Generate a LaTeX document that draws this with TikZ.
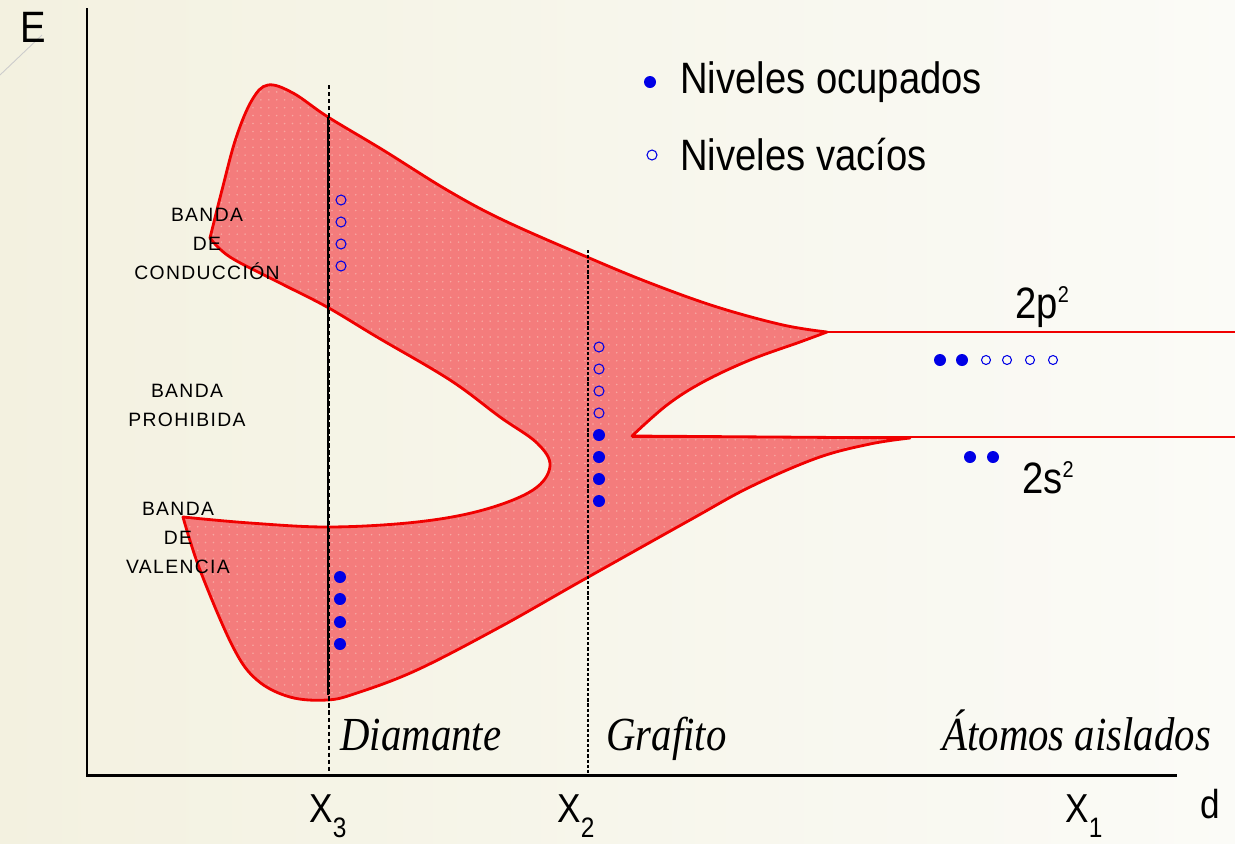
\documentclass[tikz,border=0pt]{standalone}
\usepackage{fontspec}
\newfontfamily\condsans[FakeStretch=0.87]{Liberation Sans}
\newfontfamily\condserif[FakeStretch=0.86]{Liberation Serif}
\newfontfamily\bandfont[LetterSpace=7]{Liberation Sans}
\usetikzlibrary{patterns.meta}
\definecolor{bandfill}{HTML}{F47C7C}
\definecolor{banddot}{HTML}{F8A8A2}
\definecolor{bandred}{HTML}{F00000}
\definecolor{levelblue}{HTML}{0000E6}
\definecolor{paperleft}{HTML}{F3F1E0}
\definecolor{paperright}{HTML}{FBFBF7}

\tikzset{
  axisline/.style={line width=1.7pt},
  cutline/.style={line width=0.7pt, dash pattern=on 2.5pt off 1.5pt},
  bandedge/.style={draw=bandred, line width=1.6pt, line join=round},
  levelline/.style={draw=bandred, line width=1.6pt},
  occ/.style={fill=levelblue},
  vac/.style={draw=levelblue, line width=0.6pt},
  biglabel/.style={inner sep=0pt, anchor=base west, font=\condsans\fontsize{25}{30}\selectfont},
  axislabel/.style={inner sep=0pt, anchor=base west, font=\condsans\fontsize{23}{28}\selectfont},
  phaselabel/.style={inner sep=0pt, anchor=base west, font=\condserif\itshape\fontsize{27}{30}\selectfont},
  bandlabel/.style={align=center, inner sep=0pt, font=\bandfont\fontsize{11}{16.5}\selectfont},
}

\begin{document}
\begin{tikzpicture}[x=0.02cm, y=-0.02cm]
  \useasboundingbox (0,0) rectangle (1235,843);
  \shade[left color=paperleft, right color=paperright] (0,0) rectangle (1235,843);
  \draw[black!20, line width=0.5pt] (0,75) -- (42,35);

  % axes
  \coordinate (origin) at (87,775);
  \coordinate (etop) at (87,8);
  \coordinate (dend) at (1177,775);
  \draw[axisline] (etop) -- (origin) -- (dend);

  % bands
  \draw[bandedge, preaction={fill=bandfill},
        preaction={pattern={Dots[distance=4.5pt, radius=0.5pt]}, pattern color=banddot}]
    plot[smooth, tension=0.6] coordinates {(183,517) (250,523) (330,527) (417,522) (483,510)
      (533,490) (550,466) (537,443) (500,417) (450,380) (377,337) (327,307) (280,283)
      (230,257) (210,238)}
    -- plot[smooth, tension=0.6] coordinates {(210,238) (222,190) (236,138) (252,100)
      (268,85) (293,93) (328,117) (383,150) (447,190) (503,220) (587,257) (650,283)
      (717,307) (783,325) (827,332)}
    -- plot[smooth, tension=0.6] coordinates {(827,332) (800,342) (750,360) (703,382)
      (667,405) (632,436)}
    -- (910,438)
    -- plot[smooth, tension=0.6] coordinates {(910,438) (870,444) (817,458) (750,487)
      (690,520) (583,580) (500,627) (417,670) (357,693) (327,700) (290,697) (257,680)
      (233,647) (200,570) (183,517)}
    -- cycle;

  % isolated atom levels
  \coordinate (cusp) at (827,332);
  \coordinate (ptwoend) at (1235,332);
  \coordinate (wedge) at (632,437);
  \coordinate (stwoend) at (1235,437);
  \draw[levelline] (cusp) -- (ptwoend);
  \draw[levelline] (wedge) -- (stwoend);

  % interatomic distances
  \coordinate (xthreetop) at (329,85);
  \coordinate (xthreebot) at (329,773);
  \coordinate (xtwotop) at (588,250);
  \coordinate (xtwobot) at (588,773);
  \draw[cutline] (xthreetop) -- (xthreebot);
  \draw[line width=1.6pt] (328,117) -- (328,695);
  \draw[cutline, line width=1.1pt, dash pattern=on 1.8pt off 1.1pt] (xtwotop) -- (xtwobot);

  % levels
  \foreach \y in {200,222,244,266} \draw[vac] (341,\y) circle (5);
  \foreach \y in {577,599,622,644} \fill[occ] (340,\y) circle (6);
  \foreach \y in {347,369,391,413} \draw[vac] (599,\y) circle (5);
  \foreach \y in {435,457,479,501} \fill[occ] (599,\y) circle (6);
  \foreach \x in {940,962} \fill[occ] (\x,360) circle (6);
  \foreach \x in {986,1007,1030,1053} \draw[vac] (\x,360) circle (4.5);
  \foreach \x in {970,993} \fill[occ] (\x,457) circle (6);

  % legend
  \fill[occ] (650,82) circle (6);
  \draw[vac] (652,155) circle (5);
  \node[biglabel] (occtext) at (680,93) {Niveles ocupados};
  \node[biglabel] (vactext) at (680,170) {Niveles vacíos};

  % labels
  \node[biglabel] (elabel) at (20,42) {E};
  \node[axislabel] (dlabel) at (1200,818) {d};
  \node[axislabel] (xthree) at (309,822) {X\raisebox{-9pt}{\fontsize{16}{18}\selectfont 3}};
  \node[axislabel] (xtwo) at (557,822) {X\raisebox{-9pt}{\fontsize{16}{18}\selectfont 2}};
  \node[axislabel] (xone) at (1065,822) {X\raisebox{-9pt}{\fontsize{16}{18}\selectfont 1}};
  \node[biglabel] (ptwo) at (1015,318) {2p\raisebox{8.8pt}{\fontsize{13}{15}\selectfont 2}};
  \node[biglabel] (stwo) at (1022,493) {2s\raisebox{8.8pt}{\fontsize{13}{15}\selectfont 2}};
  \node[phaselabel] (diamante) at (340,750) {Diamante};
  \node[phaselabel] (grafito) at (606,750) {Grafito};
  \node[phaselabel] (atomos) at (942,750) {Átomos aislados};
  \node[bandlabel] (conduccion) at (207,244) {BANDA\\DE\\CONDUCCIÓN};
  \node[bandlabel] (prohibida) at (187,405) {BANDA\\PROHIBIDA};
  \node[bandlabel] (valencia) at (178,538) {BANDA\\DE\\VALENCIA};
\end{tikzpicture}
\end{document}
